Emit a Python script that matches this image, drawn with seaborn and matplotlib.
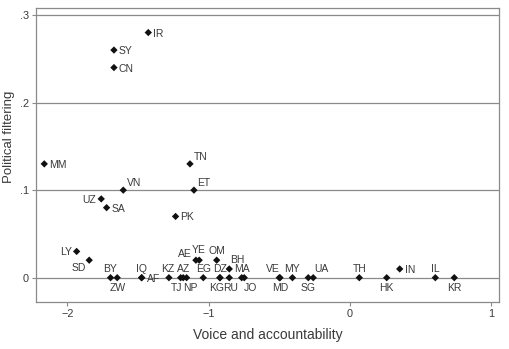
import numpy as np
import matplotlib.pyplot as plt
import pandas as pd
import seaborn as sns

# ---- data ----
codes = ["IR", "SY", "CN", "MM", "TN", "ET", "VN", "PK", "UZ", "SA",
         "LY", "SD", "BY", "ZW", "IQ", "AF", "KZ", "TJ", "AZ", "NP",
         "AE", "YE", "EG", "OM", "DZ", "KG", "RU", "BH", "MA", "JO",
         "VE", "MD", "MY", "SG", "UA", "TH", "HK", "IN", "IL", "KR"]
voice = [-1.427, -1.670, -1.670, -2.163, -1.132, -1.104, -1.604, -1.234, -1.760, -1.722,
         -1.934, -1.845, -1.694, -1.647, -1.474, -1.474, -1.281, -1.198, -1.180, -1.156,
         -1.090, -1.067, -1.038, -0.943, -0.920, -0.920, -0.854, -0.854, -0.766, -0.748,
         -0.500, -0.495, -0.407, -0.295, -0.260, 0.066, 0.260, 0.352, 0.604, 0.738]
filtering = [0.28, 0.26, 0.24, 0.13, 0.13, 0.10, 0.10, 0.07, 0.09, 0.08,
             0.03, 0.02, 0.0, 0.0, 0.0, 0.0, 0.0, 0.0, 0.0, 0.0,
             0.02, 0.02, 0.0, 0.02, 0.0, 0.0, 0.0, 0.01, 0.0, 0.0,
             0.0, 0.0, 0.0, 0.0, 0.0, 0.0, 0.0, 0.01, 0.0, 0.0]
xticks = [-2, -1, 0, 1]
xtick_labels = ["\u22122", "\u22121", "0", "1"]
yticks = [0, 0.1, 0.2, 0.3]
ytick_labels = ["0", ".1", ".2", ".3"]

df = pd.DataFrame({"code": codes, "voice": voice, "filtering": filtering})

# label placement (offset in points, ha, va), default = centred above
right = ["IR", "SY", "CN", "MM", "SA", "PK", "IN", "AF"]
upright = ["TN", "ET", "VN"]
left = ["UZ", "LY"]
below = ["ZW", "MD", "SG", "HK", "KR"]
special = {
    "SD": ((-2, -2), "right", "top"),
    "AE": ((-3, 1), "right", "bottom"),
    "YE": ((0, 4), "center", "bottom"),
    "BH": ((0.5, 3), "left", "bottom"),
    "UA": ((0.5, 3), "left", "bottom"),
    "VE": ((-4.5, 3), "center", "bottom"),
    "KZ": ((-0.5, 3), "center", "bottom"),
    "AZ": ((0.5, 3), "center", "bottom"),
    "TJ": ((-3, -4), "center", "top"),
    "NP": ((2.5, -4), "center", "top"),
    "KG": ((-2.5, -4), "center", "top"),
    "RU": ((1, -4), "center", "top"),
    "JO": ((4.5, -4), "center", "top"),
}

def label_pos(c):
    if c in special:
        return special[c]
    if c in right:
        return (3.5, 0), "left", "center_baseline"
    if c in upright:
        return (2.5, 1.5), "left", "bottom"
    if c in left:
        return (-3.5, 0), "right", "center_baseline"
    if c in below:
        return (0, -4), "center", "top"
    return (0, 3), "center", "bottom"

sns.set_theme(style="white")
plt.rcParams['font.family'] = ['Liberation Sans', 'DejaVu Sans']
txt = "#3a3a3a"
grid = "#8a8a8a"

fig = plt.figure(figsize=(5.10, 3.49), dpi=100)
ax = fig.add_axes([36 / 510, 1 - 302.3 / 349, (499 - 36) / 510, (302.3 - 8.3) / 349])

for y in yticks:
    ax.axhline(y, color=grid, lw=0.9, zorder=1)

sns.scatterplot(data=df, x="voice", y="filtering", marker="D", s=14,
                color="#111111", edgecolor="none", ax=ax, zorder=3, legend=False)

for c, x, y in zip(df["code"], df["voice"], df["filtering"]):
    off, ha, va = label_pos(c)
    ax.annotate(c, xy=(x, y), xytext=off, textcoords="offset points",
                ha=ha, va=va, fontsize=7.5, color=txt,
                family=["Liberation Sans Narrow", "Liberation Sans", "DejaVu Sans"])

ax.set_xlim(-2.2215, 1.0545)
ax.set_ylim(-0.0281, 0.3077)
ax.set_xticks(xticks)
ax.set_xticklabels(xtick_labels)
ax.set_yticks(yticks)
ax.set_yticklabels(ytick_labels)
ax.tick_params(axis="both", direction="out", length=3, width=0.8, color=grid,
               labelsize=7.8, labelcolor=txt, pad=2, left=True, bottom=True)
for s in ax.spines.values():
    s.set_color(grid)
    s.set_linewidth(0.9)

ax.set_xlabel("Voice and accountability", fontsize=10, color=txt)
ax.set_ylabel("Political filtering", fontsize=9.5, color=txt)
ax.xaxis.set_label_coords(0.5, -0.088)
ax.yaxis.set_label_coords(-0.046, 0.562)
ax.grid(False)

fig.savefig("out.png", dpi=100)
